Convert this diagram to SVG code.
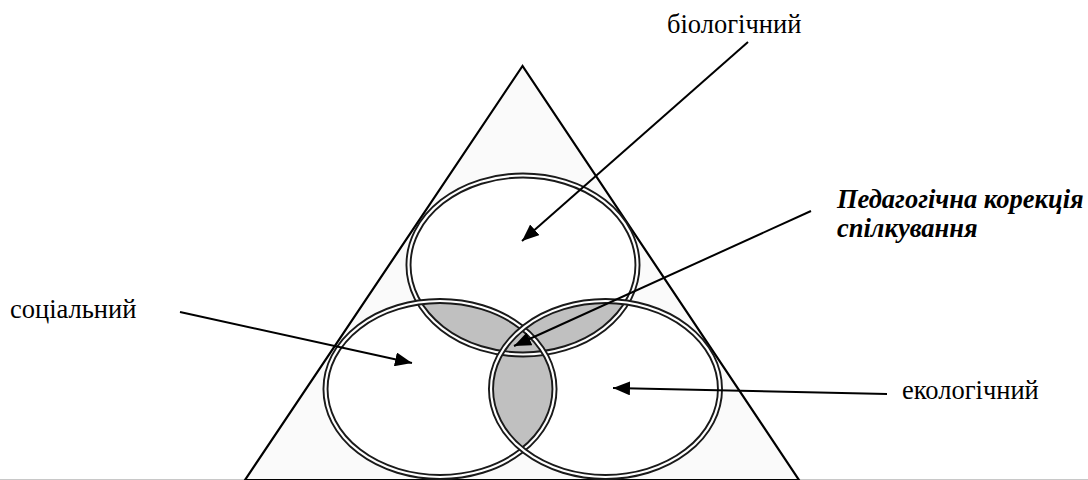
<svg xmlns="http://www.w3.org/2000/svg" width="1088" height="480" viewBox="0 0 1088 480">
  <style>
    .lbl { font-family: "Liberation Serif", "Times New Roman", serif; font-size: 26.5px; fill: #000; }
    .em { font-weight: bold; font-style: italic; }
    .outer { fill: none; stroke: #1a1a1a; stroke-width: 6; }
    .gap { fill: none; stroke: #ffffff; stroke-width: 2.2; }
    .conn { stroke: #000; stroke-width: 2; fill: none; marker-end: url(#arr); }
  </style>
  <defs>
    <marker id="arr" markerUnits="userSpaceOnUse" markerWidth="18" markerHeight="14" refX="17" refY="7" orient="auto">
      <path d="M0,0 L17,7 L0,14 Z" fill="#000"/>
    </marker>
    <ellipse id="eTop" cx="523" cy="265" rx="114.5" ry="89.5"/>
    <ellipse id="eLeft" cx="440" cy="389" rx="114.5" ry="88"/>
    <ellipse id="eRight" cx="605.5" cy="389" rx="114.5" ry="88"/>
    <clipPath id="cTop"><use href="#eTop"/></clipPath>
    <clipPath id="cLeft"><use href="#eLeft"/></clipPath>
  </defs>
  <rect x="0" y="0" width="1088" height="480" fill="#ffffff"/>
  <line x1="0" y1="479.5" x2="1088" y2="479.5" stroke="#c8c8c8" stroke-width="1"/>

  <g id="triangle">
    <polygon points="522.5,66 245,480 799,480" fill="#fafafa" stroke="#000" stroke-width="2.2" stroke-linejoin="miter"/>
  </g>

  <g id="fills">
    <use href="#eTop" fill="#ffffff"/>
    <use href="#eLeft" fill="#ffffff"/>
    <use href="#eRight" fill="#ffffff"/>
    <use href="#eLeft" fill="#c0c0c0" clip-path="url(#cTop)"/>
    <use href="#eRight" fill="#c0c0c0" clip-path="url(#cTop)"/>
    <use href="#eRight" fill="#c0c0c0" clip-path="url(#cLeft)"/>
  </g>

  <g id="circle-biological">
    <use href="#eTop" class="outer"/>
    <use href="#eTop" class="gap"/>
  </g>
  <g id="circle-social">
    <use href="#eLeft" class="outer"/>
    <use href="#eLeft" class="gap"/>
  </g>
  <g id="circle-ecological">
    <use href="#eRight" class="outer"/>
    <use href="#eRight" class="gap"/>
  </g>

  <g id="connectors">
    <line class="conn" x1="748" y1="42" x2="522" y2="241"/>
    <line class="conn" x1="811" y1="211" x2="514" y2="346"/>
    <line class="conn" x1="180" y1="312" x2="412" y2="363"/>
    <line class="conn" x1="887" y1="394" x2="613" y2="388"/>
  </g>

  <g id="label-biological">
    <text class="lbl" x="667" y="33">біологічний</text>
  </g>
  <g id="label-pedagogical">
    <text class="lbl em" x="837" y="208">Педагогічна корекція</text>
    <text class="lbl em" x="837" y="237">спілкування</text>
  </g>
  <g id="label-social">
    <text class="lbl" x="10" y="318">соціальний</text>
  </g>
  <g id="label-ecological">
    <text class="lbl" x="902" y="399">екологічний</text>
  </g>
</svg>
